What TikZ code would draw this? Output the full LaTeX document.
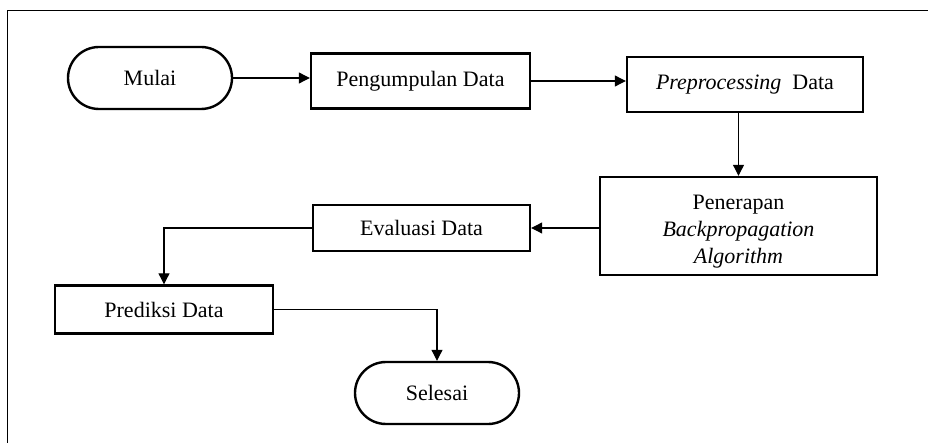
\documentclass[tikz,border=0pt]{standalone}
\usepackage{fontspec}
\setmainfont{Liberation Serif}
\usetikzlibrary{arrows.meta,shapes.misc}
\begin{document}
\begin{tikzpicture}[x=1pt,y=-1pt,
  every node/.style={font=\fontsize{22}{26}\selectfont},
  procbox/.style={draw, line width=2.4pt, rectangle, inner sep=0pt, align=center},
  terminal/.style={draw, line width=2.4pt, rounded rectangle, inner sep=0pt,
                   minimum width=164pt, minimum height=62pt},
  flow/.style={line width=1.1pt, -{Triangle[length=11pt,width=11pt]}}]
\useasboundingbox (0,0) rectangle (928,443);
% frame lines (top and left)
\draw[line width=1.4pt] (7.5,443) -- (7.5,10.5) -- (928,10.5);

% nodes
\node[terminal] (mulai) at (150,78) {Mulai};
\node[procbox, minimum width=219pt, minimum height=55pt] (kumpul) at (420.5,81) {Pengumpulan Data};
\node[procbox, minimum width=236pt, minimum height=55pt] (prep) at (745,84.5) {\textit{Preprocessing}\ \ Data};
\node[procbox, minimum width=277pt, minimum height=98pt] (terap) at (738.5,226) {};
\node[align=center, inner sep=0pt, font=\fontsize{22}{27}\selectfont] (terapText)
  at ([yshift=-6pt]terap.center) {Penerapan\\\textit{Backpropagation}\\\textit{Algorithm}};
\node[procbox, minimum width=217pt, minimum height=46pt] (eval) at (421.5,228) {Evaluasi Data};
\node[procbox, minimum width=218pt, minimum height=48pt] (pred) at (164,309.5) {Prediksi Data};
\node[terminal] (selesai) at (437,393) {Selesai};

% connectors
\draw[flow] (mulai.east) -- (mulai.east -| kumpul.west);
\draw[flow] (kumpul.east) -- (kumpul.east -| prep.west);
\draw[flow] (prep.south -| terap.north) -- (terap.north);
\draw[flow] (terap.west |- eval.east) -- (eval.east);
\draw[flow] (eval.west) -| (pred.north);
\draw[flow] (pred.east) -| (selesai.north);
\end{tikzpicture}
\end{document}
